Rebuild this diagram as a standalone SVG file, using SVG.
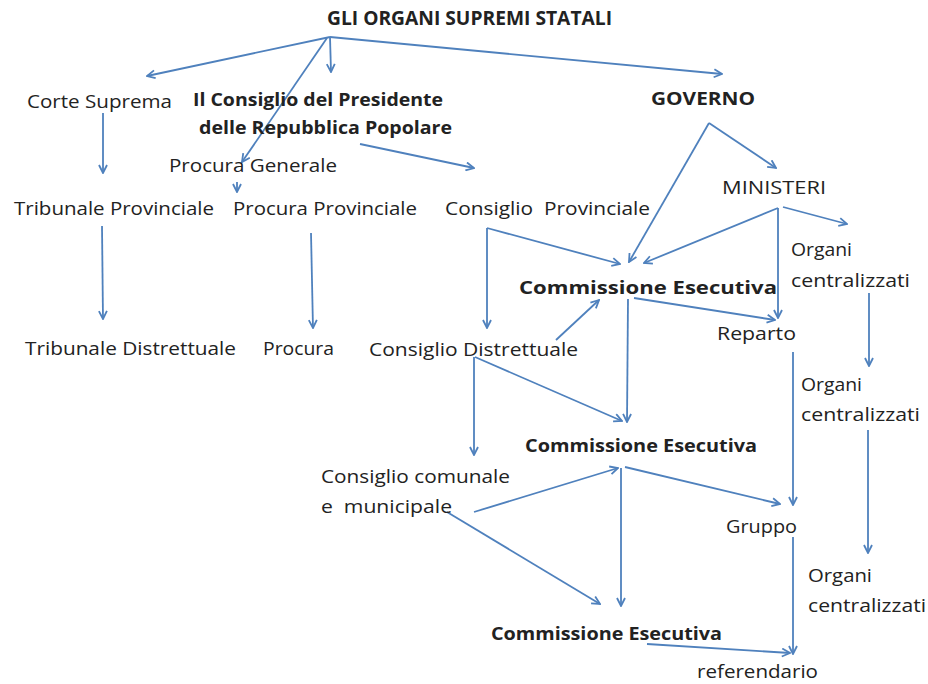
<svg xmlns="http://www.w3.org/2000/svg" width="928" height="684" viewBox="0 0 928 684">
<style>
text{font-family:"Open Sans","Noto Sans","Liberation Sans",sans-serif;font-size:18px;fill:#222}
.b{font-weight:bold}
.t{font-size:20px}
#connectors line{stroke:#4F81BD;stroke-width:1.8;fill:none;marker-end:url(#ah)}
</style>
<defs>
<marker id="ah" viewBox="0 0 10 10" refX="9" refY="5" markerWidth="10" markerHeight="10" markerUnits="userSpaceOnUse" orient="auto">
<path d="M1,1 L9,5 L1,9" fill="none" stroke="#4F81BD" stroke-width="1.8"/>
</marker>
</defs>
<rect width="928" height="684" fill="#fff"/>
<g id="connectors">
<line x1="330" y1="37" x2="147" y2="76"/>
<line x1="330" y1="37" x2="331" y2="72"/>
<line x1="327" y1="38" x2="242" y2="162"/>
<line x1="237" y1="182" x2="237" y2="192"/>
<line x1="330" y1="37" x2="722" y2="74"/>
<line x1="103" y1="113" x2="103" y2="173"/>
<line x1="360" y1="144" x2="474" y2="168"/>
<line x1="102" y1="226" x2="103" y2="319"/>
<line x1="311" y1="233" x2="313" y2="328"/>
<line x1="709" y1="123" x2="776" y2="168"/>
<line x1="709" y1="123" x2="629" y2="262"/>
<line x1="487" y1="228" x2="620" y2="264"/>
<line x1="487" y1="228" x2="487" y2="328"/>
<line x1="778" y1="208" x2="644" y2="263"/>
<line x1="778" y1="208" x2="778" y2="318"/>
<line x1="783" y1="207" x2="847" y2="224"/>
<line x1="634" y1="298" x2="775" y2="320"/>
<line x1="628" y1="299" x2="627" y2="422"/>
<line x1="556" y1="340" x2="599" y2="300"/>
<line x1="475" y1="357" x2="622" y2="421"/>
<line x1="474" y1="357" x2="474" y2="455"/>
<line x1="793" y1="352" x2="793" y2="505"/>
<line x1="869" y1="293" x2="869" y2="366"/>
<line x1="868" y1="430" x2="868" y2="553"/>
<line x1="625" y1="467" x2="780" y2="504"/>
<line x1="621" y1="468" x2="621" y2="606"/>
<line x1="474" y1="512" x2="618" y2="468"/>
<line x1="447" y1="512" x2="600" y2="604"/>
<line x1="793" y1="537" x2="793" y2="654"/>
<line x1="647" y1="644" x2="790" y2="653"/>
</g>
<g id="n-title"><text class="b t" x="327" y="25" textLength="285" lengthAdjust="spacingAndGlyphs">GLI ORGANI SUPREMI STATALI</text></g>
<g id="n-corte"><text x="27" y="108" textLength="145" lengthAdjust="spacingAndGlyphs">Corte Suprema</text></g>
<g id="n-consiglio-pres"><text class="b" x="193" y="106" textLength="250" lengthAdjust="spacingAndGlyphs">Il Consiglio del Presidente</text><text class="b" x="199" y="134" textLength="253" lengthAdjust="spacingAndGlyphs">delle Repubblica Popolare</text></g>
<g id="n-procura-gen"><text x="169" y="172" textLength="168" lengthAdjust="spacingAndGlyphs">Procura Generale</text></g>
<g id="n-trib-prov"><text x="14" y="215" textLength="200" lengthAdjust="spacingAndGlyphs">Tribunale Provinciale</text></g>
<g id="n-procura-prov"><text x="233" y="215" textLength="184" lengthAdjust="spacingAndGlyphs">Procura Provinciale</text></g>
<g id="n-cons-prov"><text x="445" y="215" textLength="205" lengthAdjust="spacingAndGlyphs" xml:space="preserve">Consiglio  Provinciale</text></g>
<g id="n-governo"><text class="b" x="651" y="105" textLength="104" lengthAdjust="spacingAndGlyphs">GOVERNO</text></g>
<g id="n-ministeri"><text x="722" y="194" textLength="104" lengthAdjust="spacingAndGlyphs">MINISTERI</text></g>
<g id="n-organi1"><text x="791" y="256" textLength="61" lengthAdjust="spacingAndGlyphs">Organi</text><text x="791" y="287" textLength="119" lengthAdjust="spacingAndGlyphs">centralizzati</text></g>
<g id="n-comm1"><text class="b" x="519" y="294" textLength="258" lengthAdjust="spacingAndGlyphs">Commissione Esecutiva</text></g>
<g id="n-reparto"><text x="717" y="340" textLength="79" lengthAdjust="spacingAndGlyphs">Reparto</text></g>
<g id="n-trib-distr"><text x="25" y="355" textLength="211" lengthAdjust="spacingAndGlyphs">Tribunale Distrettuale</text></g>
<g id="n-procura"><text x="263" y="355" textLength="71" lengthAdjust="spacingAndGlyphs">Procura</text></g>
<g id="n-cons-distr"><text x="369" y="356" textLength="209" lengthAdjust="spacingAndGlyphs">Consiglio Distrettuale</text></g>
<g id="n-organi2"><text x="801" y="391" textLength="61" lengthAdjust="spacingAndGlyphs">Organi</text><text x="801" y="421" textLength="119" lengthAdjust="spacingAndGlyphs">centralizzati</text></g>
<g id="n-comm2"><text class="b" x="525" y="452" textLength="232" lengthAdjust="spacingAndGlyphs">Commissione Esecutiva</text></g>
<g id="n-cons-com"><text x="321" y="483" textLength="189" lengthAdjust="spacingAndGlyphs">Consiglio comunale</text><text x="321" y="513" textLength="131" lengthAdjust="spacingAndGlyphs" xml:space="preserve">e  municipale</text></g>
<g id="n-gruppo"><text x="726" y="533" textLength="71" lengthAdjust="spacingAndGlyphs">Gruppo</text></g>
<g id="n-organi3"><text x="808" y="582" textLength="64" lengthAdjust="spacingAndGlyphs">Organi</text><text x="808" y="612" textLength="118" lengthAdjust="spacingAndGlyphs">centralizzati</text></g>
<g id="n-comm3"><text class="b" x="491" y="640" textLength="231" lengthAdjust="spacingAndGlyphs">Commissione Esecutiva</text></g>
<g id="n-referendario"><text x="697" y="678" textLength="121" lengthAdjust="spacingAndGlyphs">referendario</text></g>
</svg>
